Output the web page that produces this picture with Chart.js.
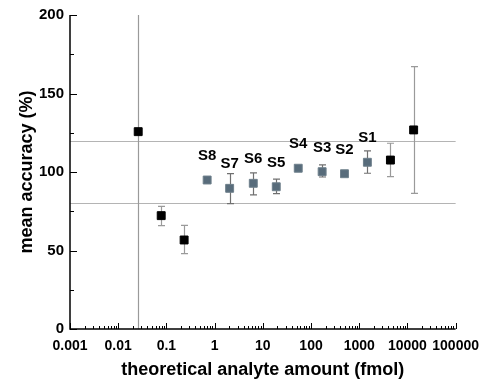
<!DOCTYPE html>
<html>
<head>
<meta charset="utf-8">
<script src="https://cdn.jsdelivr.net/npm/chart.js@4"></script>
<style>
  html,body{margin:0;padding:0;background:#fff;}
  #wrap{width:488px;height:381px;}
</style>
</head>
<body>
<div id="wrap"><canvas id="c"></canvas></div>
<script>
// -------- DATA ----------
// black points (outside the standard range)
const otherX  = [0.026, 0.078, 0.233, 4436, 13450];
const otherY  = [125.7, 72.2, 56.7, 107.6, 126.8];
const otherLo = [-0.3, 65.8, 48.0, 97.0, 86.4];
const otherHi = [251.7, 78.1, 66.0, 118.3, 167.1];

// grey standards S8..S1
const stdNames = ['S8','S7','S6','S5','S4','S3','S2','S1'];
const stdX  = [0.70, 2.05, 6.34, 19.0, 54.3, 170, 494, 1476];
const stdY  = [94.9, 89.6, 92.8, 90.6, 102.4, 100.2, 98.9, 106.2];
const stdLo = [93.6, 79.8, 85.4, 86.2, 101.0, 96.8, 98.2, 99.2];
const stdHi = [96.2, 99.0, 99.4, 95.5, 103.8, 104.6, 99.6, 113.4];

// acceptance limits
const limits = [80, 120];

// ticks
const xTickLabels = ['0.001','0.01','0.1','1','10','100','1000','10000','100000'];
const yTicks = [0, 50, 100, 150, 200];
const yMinorTicks = [25, 75, 125, 175];

const FONT = '"Liberation Sans", Arial, sans-serif';
const GREY = '#586c7b';

// -------- PLUGIN: axes, limits, error bars, labels ----------
const decor = {
  id: 'decor',
  beforeDatasetsDraw(chart){
    const {ctx, chartArea:a, scales:{x, y}} = chart;
    ctx.save();
    // limit lines
    ctx.strokeStyle = '#b4b4b4';
    ctx.lineWidth = 1.2;
    limits.forEach(v=>{
      const py = Math.round(y.getPixelForValue(v)) + 0.5;
      ctx.beginPath(); ctx.moveTo(a.left, py); ctx.lineTo(a.right, py); ctx.stroke();
    });
    // error bars
    ctx.beginPath(); ctx.rect(a.left, a.top, a.right - a.left, a.bottom - a.top); ctx.clip();
    const bars = (xs, lo, hi, col) => {
      ctx.strokeStyle = col;
      ctx.lineWidth = 1.2;
      xs.forEach((v,i)=>{
        const px = Math.round(x.getPixelForValue(v)) + 0.5;
        const p1 = y.getPixelForValue(lo[i]), p2 = y.getPixelForValue(hi[i]);
        ctx.beginPath();
        ctx.moveTo(px, p1); ctx.lineTo(px, p2);
        ctx.moveTo(px-3.5, p1); ctx.lineTo(px+3.5, p1);
        ctx.moveTo(px-3.5, p2); ctx.lineTo(px+3.5, p2);
        ctx.stroke();
      });
    };
    bars(otherX, otherLo, otherHi, '#9a9a9a');
    bars(stdX, stdLo, stdHi, '#707070');
    ctx.restore();
  },
  afterDraw(chart){
    const {ctx, chartArea:a, scales:{x, y}} = chart;
    ctx.save();
    // axis lines
    ctx.strokeStyle = '#000';
    ctx.lineWidth = 1.5;
    ctx.beginPath();
    ctx.moveTo(a.left, a.top); ctx.lineTo(a.left, a.bottom); ctx.lineTo(a.right, a.bottom);
    ctx.stroke();
    ctx.lineWidth = 1;
    // y ticks (inward)
    ctx.beginPath();
    yTicks.forEach(v=>{ const py = Math.round(y.getPixelForValue(v))+0.5; ctx.moveTo(a.left, py); ctx.lineTo(a.left+7, py); });
    yMinorTicks.forEach(v=>{ const py = Math.round(y.getPixelForValue(v))+0.5; ctx.moveTo(a.left, py); ctx.lineTo(a.left+4, py); });
    // x ticks (inward), decades + minor 2..9
    xTickLabels.map(Number).forEach((d,k)=>{
      const px = Math.round(x.getPixelForValue(d))+0.5;
      ctx.moveTo(px, a.bottom); ctx.lineTo(px, a.bottom-6);
      if (k < xTickLabels.length-1){
        for (let m=2;m<=9;m++){
          const q = Math.round(x.getPixelForValue(m*d))+0.5;
          ctx.moveTo(q, a.bottom); ctx.lineTo(q, a.bottom-3);
        }
      }
    });
    ctx.stroke();
    // standard labels
    ctx.fillStyle = '#000';
    ctx.font = 'bold 15px ' + FONT;
    ctx.textAlign = 'center';
    ctx.textBaseline = 'middle';
    stdNames.forEach((n,i)=>{
      ctx.fillText(n, x.getPixelForValue(stdX[i]), y.getPixelForValue(stdY[i]) - 24);
    });
    ctx.restore();
  }
};

// -------- CHART ----------
new Chart(document.getElementById('c').getContext('2d'), {
  type: 'scatter',
  data: {
    datasets: [
      {
        label: 'other',
        data: otherX.map((v,i)=>({x:v, y:otherY[i]})),
        pointStyle: 'rect',
        pointRadius: 5.6,
        backgroundColor: '#000',
        borderColor: '#000',
        borderWidth: 1
      },
      {
        label: 'standards',
        data: stdX.map((v,i)=>({x:v, y:stdY[i]})),
        pointStyle: 'rect',
        pointRadius: 5.6,
        backgroundColor: GREY,
        borderColor: '#6f808c',
        borderWidth: 1
      }
    ]
  },
  options: {
    responsive: true,
    maintainAspectRatio: false,
    animation: false,
    layout: { padding: { top: 15, right: 26, left: 0, bottom: 0 } },
    plugins: { legend: { display: false }, tooltip: { enabled: false } },
    scales: {
      x: {
        type: 'logarithmic',
        min: 0.001, max: 100000,
        grid: { display: false, drawTicks: false },
        border: { display: false },
        afterBuildTicks: s => { s.ticks = xTickLabels.map(t=>({value:Number(t)})); },
        afterFit: s => { s.height = 52; },
        ticks: {
          autoSkip: false, maxRotation: 0, padding: 9,
          color: '#000',
          font: { family: FONT, size: 14, weight: 'bold' },
          callback: (v, i) => xTickLabels[i]
        },
        title: {
          display: true, text: 'theoretical analyte amount (fmol)',
          color: '#000', font: { family: FONT, size: 18, weight: 'bold' },
          padding: { top: 0, bottom: 0 }
        }
      },
      y: {
        min: 0, max: 200,
        grid: { display: false, drawTicks: false },
        border: { display: false },
        afterBuildTicks: s => { s.ticks = yTicks.map(v=>({value:v})); },
        afterFit: s => { s.width = 70; },
        ticks: {
          padding: 6,
          color: '#000',
          font: { family: FONT, size: 15, weight: 'bold' }
        },
        title: {
          display: true, text: 'mean accuracy (%)',
          color: '#000', font: { family: FONT, size: 18, weight: 'bold' },
          padding: { top: 16, bottom: 0 }
        }
      }
    }
  },
  plugins: [decor]
});
</script>
</body>
</html>
